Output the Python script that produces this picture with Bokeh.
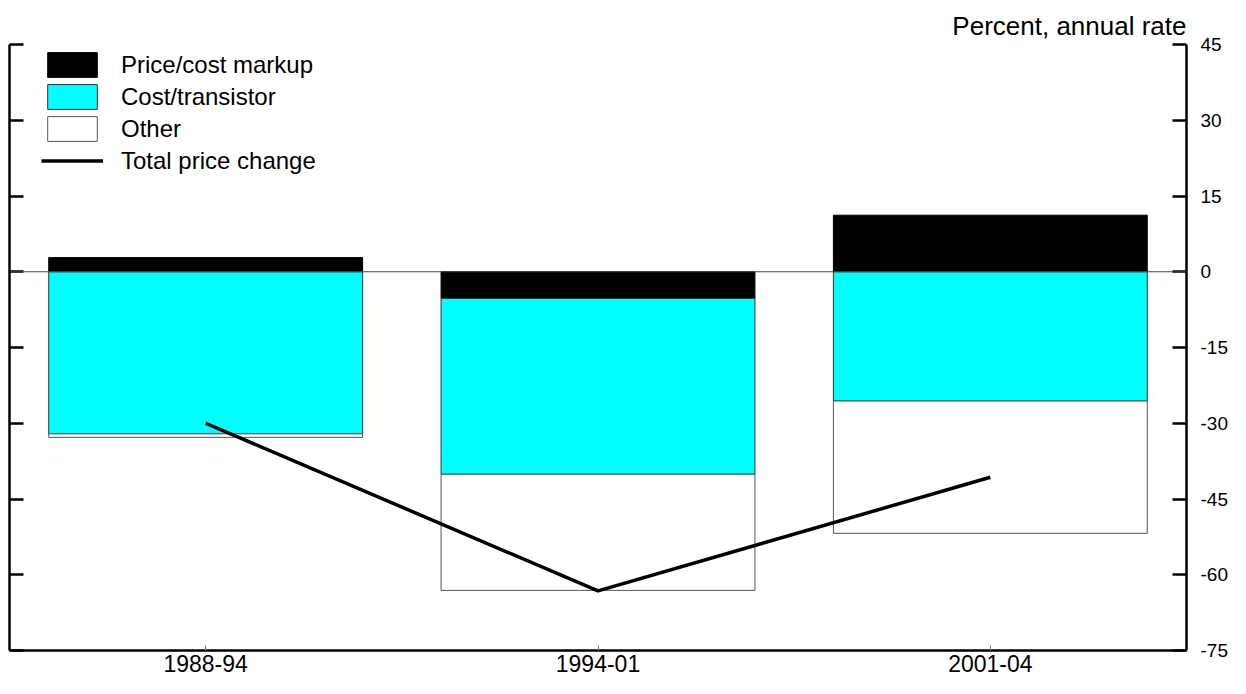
from bokeh.plotting import figure
from bokeh.models import (FactorRange, Range1d, LinearAxis, CategoricalAxis, FixedTicker,
                          Span, Legend, LegendItem, Title, ColumnDataSource)
from bokeh.embed import file_html
from bokeh.resources import INLINE

categories = ["1988-94", "1994-01", "2001-04"]
markup = [2.8, -5.3, 11.2]
cost_transistor = [-32.1, -34.8, -25.6]
other = [-0.7, -23.0, -26.2]
total = [-30.0, -63.2, -40.7]
y_ticks = [-75, -60, -45, -30, -15, 0, 15, 30, 45]
y_tick_labels = ["-75", "-60", "-45", "-30", "-15", "0", "15", "30", "45"]

series = [("Price/cost markup", markup, "black", "black"),
          ("Cost/transistor", cost_transistor, "#00FFFF", "#333333"),
          ("Other", other, "white", "#555555")]

FONT = "Liberation Sans"

p = figure(width=1230, height=678, x_range=FactorRange(*categories, range_padding=0),
           y_range=Range1d(-75, 45), output_backend="svg", toolbar_location=None,
           x_axis_location=None, y_axis_location=None,
           min_border_left=9, min_border_right=0, min_border_top=44, min_border_bottom=28)
p.xgrid.visible = False
p.ygrid.visible = False
p.outline_line_color = None
p.background_fill_color = "white"

# stacking with sign
pos_base = [0.0] * len(categories)
neg_base = [0.0] * len(categories)
renderers = {}
for name, vals, fill, line in series:
    bottoms, tops = [], []
    for i, v in enumerate(vals):
        if v >= 0:
            bottoms.append(pos_base[i]); tops.append(pos_base[i] + v); pos_base[i] += v
        else:
            bottoms.append(neg_base[i]); tops.append(neg_base[i] + v); neg_base[i] += v
    src = ColumnDataSource(dict(x=categories, bottom=bottoms, top=tops))
    r = p.vbar(x="x", bottom="bottom", top="top", width=0.8, source=src,
               fill_color=fill, line_color=line, line_width=1)
    renderers[name] = r

p.add_layout(Span(location=0, dimension="width", line_color="#444444", line_width=1))

lr = p.line(x=categories, y=total, line_color="black", line_width=3.5)

# axes
ax_b = CategoricalAxis()
ax_b.axis_line_width = 2.5
ax_b.axis_line_color = "black"
ax_b.major_tick_in = 5
ax_b.major_tick_out = 0
ax_b.major_tick_line_color = "#777777"
ax_b.major_tick_line_width = 1
ax_b.minor_tick_line_color = None
ax_b.major_label_text_font = FONT
ax_b.major_label_text_font_size = "23px"
ax_b.major_label_text_color = "black"
ax_b.major_label_standoff = 4
p.add_layout(ax_b, "below")

ax_l = LinearAxis(ticker=FixedTicker(ticks=y_ticks))
ax_l.axis_line_width = 2.5
ax_l.major_tick_in = 14
ax_l.major_tick_out = 0
ax_l.major_tick_line_width = 2.5
ax_l.minor_tick_line_color = None
ax_l.major_label_overrides = {t: "" for t in y_ticks}
ax_l.major_label_standoff = 0
p.add_layout(ax_l, "left")

ax_r = LinearAxis(ticker=FixedTicker(ticks=y_ticks))
ax_r.axis_line_width = 2.5
ax_r.major_tick_in = 14
ax_r.major_tick_out = 0
ax_r.major_tick_line_width = 2.5
ax_r.minor_tick_line_color = None
ax_r.major_label_overrides = dict(zip(y_ticks, y_tick_labels))
ax_r.major_label_text_font = FONT
ax_r.major_label_text_font_size = "19px"
ax_r.major_label_text_color = "black"
ax_r.major_label_standoff = 14
p.add_layout(ax_r, "right")

title = Title(text="Percent, annual rate", align="right", text_font=FONT,
              text_font_size="26px", text_font_style="normal", text_color="black",
              offset=0, standoff=8)
p.add_layout(title, "above")

items = [LegendItem(label=name, renderers=[renderers[name]]) for name, *_ in series]
items.append(LegendItem(label="Total price change", renderers=[lr]))
legend = Legend(items=items, location=(32, 474), glyph_width=62, glyph_height=31,
                spacing=1, label_standoff=18, label_text_font=FONT,
                label_text_font_size="24px", label_text_color="black",
                border_line_color=None,
                background_fill_alpha=0, padding=8, margin=0)
p.add_layout(legend, "center")

open("out.html", "w").write(file_html(p, INLINE))
